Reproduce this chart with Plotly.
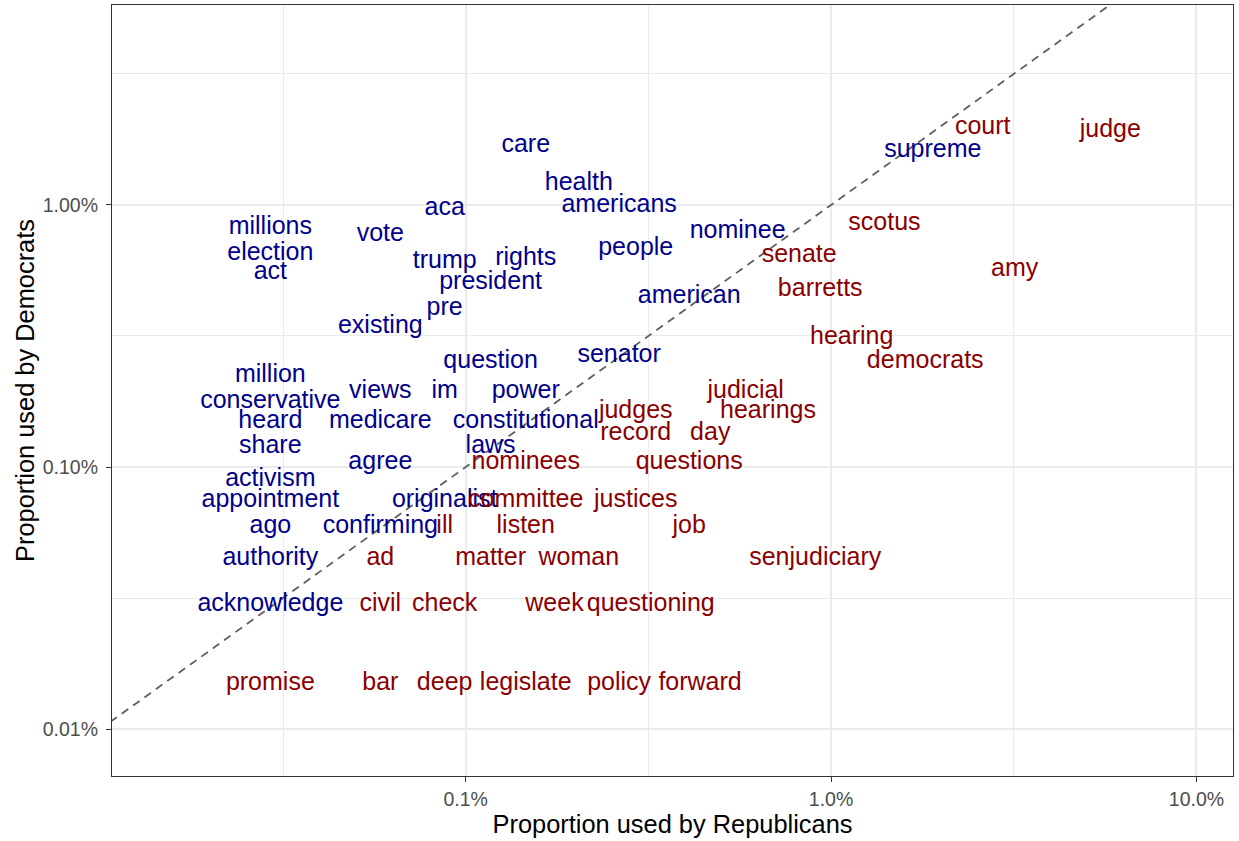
import plotly.graph_objects as go

# Words used more by Democrats (blue)
dem_words = ["care", "health", "americans", "aca", "millions", "vote", "nominee",
             "election", "people", "trump", "rights", "act", "president", "american",
             "pre", "existing", "supreme", "question", "senator", "million", "views",
             "im", "power", "conservative", "heard", "medicare", "constitutional",
             "share", "laws", "agree", "activism", "appointment", "originalist", "ago",
             "confirming", "authority", "acknowledge"]
dem_x = [0.146, 0.204, 0.263, 0.0876, 0.0292, 0.0584, 0.555,
         0.0292, 0.292, 0.0876, 0.146, 0.0292, 0.117, 0.409,
         0.0876, 0.0584, 1.898, 0.117, 0.263, 0.0292, 0.0584,
         0.0876, 0.146, 0.0292, 0.0292, 0.0584, 0.146,
         0.0292, 0.117, 0.0584, 0.0292, 0.0292, 0.0876, 0.0292,
         0.0584, 0.0292, 0.0292]
dem_y = [1.678, 1.203, 0.995, 0.965, 0.817, 0.772, 0.787,
         0.653, 0.683, 0.609, 0.624, 0.549, 0.505, 0.4455,
         0.401, 0.342, 1.604, 0.252, 0.267, 0.223, 0.193,
         0.193, 0.193, 0.178, 0.1485, 0.1485, 0.1485,
         0.119, 0.119, 0.104, 0.0891, 0.07425, 0.07425, 0.0594,
         0.0594, 0.04455, 0.0297]

# Words used more by Republicans (red)
rep_words = ["court", "judge", "scotus", "senate", "amy", "barretts", "hearing",
             "democrats", "judicial", "hearings", "judges", "record", "day",
             "nominees", "questions", "committee", "justices", "ill", "listen", "job",
             "ad", "matter", "woman", "senjudiciary", "civil", "check", "week",
             "questioning", "promise", "bar", "deep", "legislate", "policy", "forward"]
rep_x = [2.60, 5.81, 1.40, 0.818, 3.18, 0.934, 1.139,
         1.81, 0.584, 0.672, 0.292, 0.292, 0.467,
         0.146, 0.409, 0.146, 0.292, 0.0876, 0.146, 0.409,
         0.0584, 0.117, 0.204, 0.905, 0.0584, 0.0876, 0.175,
         0.321, 0.0292, 0.0584, 0.0876, 0.146, 0.263, 0.438]
rep_y = [1.975, 1.916, 0.846, 0.639, 0.564, 0.475, 0.312,
         0.252, 0.193, 0.163, 0.163, 0.134, 0.134,
         0.104, 0.104, 0.07425, 0.07425, 0.0594, 0.0594, 0.0594,
         0.04455, 0.04455, 0.04455, 0.04455, 0.0297, 0.0297, 0.0297,
         0.0297, 0.01485, 0.01485, 0.01485, 0.01485, 0.01485, 0.01485]

x_ticks = [0.1, 1, 10]
x_ticklabels = ["0.1%", "1.0%", "10.0%"]
y_ticks = [0.01, 0.1, 1]
y_ticklabels = ["0.01%", "0.10%", "1.00%"]
minor_ticks = [10 ** -1.5, 10 ** -0.5, 10 ** 0.5]

x_range_log = [-1.968, 1.100]
y_range_log = [-2.179, 0.763]

FONT = "Liberation Sans, Arial, Helvetica, sans-serif"
BLUE = "#00008B"
RED = "#8B0000"

fig = go.Figure()

# identity line y = x
line_vals = [10 ** -3, 10 ** 2]
fig.add_trace(go.Scatter(x=line_vals, y=line_vals, mode="lines",
                         line=dict(color="#5f5f5f", width=1.8, dash="8px,6px"),
                         hoverinfo="skip", showlegend=False))

fig.add_trace(go.Scatter(x=dem_x, y=dem_y, text=dem_words, mode="text",
                         textposition="middle center",
                         textfont=dict(family=FONT, size=25, color=BLUE),
                         showlegend=False, cliponaxis=False))
fig.add_trace(go.Scatter(x=rep_x, y=rep_y, text=rep_words, mode="text",
                         textposition="middle center",
                         textfont=dict(family=FONT, size=25, color=RED),
                         showlegend=False, cliponaxis=False))

axis_common = dict(
    type="log", showline=True, mirror=True, linecolor="#333333", linewidth=1.2,
    ticks="outside", ticklen=5, tickwidth=1.2, tickcolor="#333333",
    showgrid=True, gridcolor="#EBEBEB", gridwidth=2, zeroline=False,
    automargin=False,
    tickfont=dict(family=FONT, size=19.5, color="#4D4D4D"),
    minor=dict(tickvals=minor_ticks, showgrid=True, gridcolor="#EBEBEB",
               gridwidth=1, ticklen=0),
)

fig.update_xaxes(**axis_common, range=x_range_log, tickvals=x_ticks,
                 ticktext=x_ticklabels,
                 title=dict(text="Proportion used by Republicans",
                            font=dict(family=FONT, size=25.4, color="black"),
                            standoff=6))
fig.update_yaxes(**axis_common, range=y_range_log, tickvals=y_ticks,
                 ticktext=y_ticklabels, ticklabelstandoff=4,
                 title=dict(text="Proportion used by Democrats",
                            font=dict(family=FONT, size=25.4, color="black"),
                            standoff=0))

fig.update_layout(width=1239, height=841, autosize=False,
                  margin=dict(l=112, r=6, t=5, b=65),
                  plot_bgcolor="white", paper_bgcolor="white",
                  font=dict(family=FONT))

fig.write_html("out.html", config={"displayModeBar": False},
               post_script="document.body.style.margin='0';"
                           "document.body.style.overflow='hidden';")
